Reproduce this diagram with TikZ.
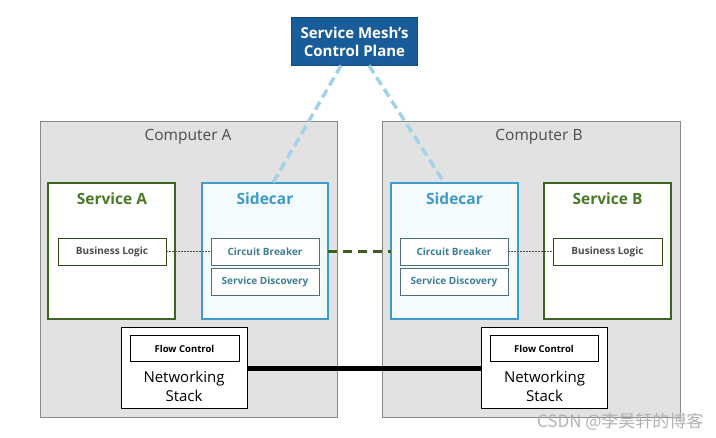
\documentclass[tikz,border=0pt]{standalone}
\usepackage{fontspec}
\setmainfont{Open Sans}
\newfontfamily\cjk{Noto Sans CJK SC}
\usetikzlibrary{calc}
\definecolor{compfill}{HTML}{E2E2E2}
\definecolor{compdraw}{HTML}{8A8A8A}
\definecolor{svcgreen}{HTML}{3F6320}
\definecolor{svctext}{HTML}{4A7A28}
\definecolor{sideblue}{HTML}{3E9BCB}
\definecolor{sidefill}{HTML}{F3FBFE}
\definecolor{sidetext}{HTML}{3D9ACB}
\definecolor{innerdraw}{HTML}{4C6E7E}
\definecolor{innertext}{HTML}{3C7E96}
\definecolor{cpfill}{HTML}{185C99}
\definecolor{cpline}{HTML}{A3D2E8}
\definecolor{linkgreen}{HTML}{3E5F1F}
\tikzset{
  box/.style={draw, rectangle, inner sep=0pt, outer sep=0pt},
  computer/.style={box, fill=compfill, draw=compdraw, line width=1pt},
  service/.style={box, fill=white, draw=svcgreen, line width=1.6pt},
  sidecarbox/.style={box, fill=sidefill, draw=sideblue, line width=1.6pt},
  bizbox/.style={box, fill=white, draw=svcgreen!70!black, line width=0.8pt, font=\fontsize{10}{12}\selectfont\bfseries, text=black!70},
  innerbox/.style={box, fill=white, draw=innerdraw, line width=0.8pt, font=\fontsize{10}{12}\selectfont\bfseries, text=innertext},
  netbox/.style={box, fill=white, draw=black, line width=1pt},
  flowbox/.style={box, fill=white, draw=black, line width=1pt, font=\fontsize{9.5}{11}\selectfont\bfseries},
  comptitle/.style={font=\fontsize{15.5}{18}\selectfont, text=black!70},
  svctitle/.style={font=\fontsize{15.5}{17}\selectfont\bfseries, text=svctext},
  sidetitle/.style={font=\fontsize{15.5}{17}\selectfont\bfseries, text=sidetext},
  nettext/.style={font=\fontsize{15}{19}\selectfont, align=center, text=black},
  cplink/.style={draw=cpline, line width=3.5pt, dash pattern=on 9pt off 5pt},
  sclink/.style={draw=linkgreen, line width=3.5pt, dash pattern=on 9pt off 6pt},
  bizlink/.style={draw=black!70, line width=0.7pt, dash pattern=on 1.5pt off 1.5pt},
  netlink/.style={draw=black, line width=5pt}
}
\begin{document}
\begin{tikzpicture}[x=1pt,y=-1pt]
\useasboundingbox (0,0) rectangle (716,438);
\fill[white] (0,0) rectangle (716,438);
% computers
\node[computer, minimum width=297pt, minimum height=296pt] (compA) at (188.5,270) {};
\node[computer, minimum width=298pt, minimum height=296pt] (compB) at (531,270) {};
\node[comptitle] (compAt) at (188,137) {Computer A};
\node[comptitle] (compBt) at (539,137) {Computer B};
% services and sidecars
\node[service, minimum width=127pt, minimum height=136pt] (svcA) at (111.5,251) {};
\node[sidecarbox, minimum width=126pt, minimum height=136pt] (scA) at (265,251) {};
\node[sidecarbox, minimum width=127pt, minimum height=136pt] (scB) at (454.5,251) {};
\node[service, minimum width=127pt, minimum height=136pt] (svcB) at (607.5,251) {};
\node[svctitle] (svcAt) at (112,199) {Service A};
\node[sidetitle] (scAt) at (265,199) {Sidecar};
\node[sidetitle] (scBt) at (454.5,199) {Sidecar};
\node[svctitle] (svcBt) at (607.5,199) {Service B};
% inner boxes
\node[bizbox, minimum width=108pt, minimum height=27pt] (blA) at (112,251.5) {Business Logic};
\node[innerbox, minimum width=108pt, minimum height=27pt] (cbA) at (265,251.5) {Circuit Breaker};
\node[innerbox, minimum width=108pt, minimum height=27pt] (sdA) at (265,281.5) {Service Discovery};
\node[innerbox, minimum width=108pt, minimum height=27pt] (cbB) at (454,251.5) {Circuit Breaker};
\node[innerbox, minimum width=108pt, minimum height=27pt] (sdB) at (454,281.5) {Service Discovery};
\node[bizbox, minimum width=109pt, minimum height=27pt] (blB) at (607.5,251.5) {Business Logic};
% networking stacks
\node[netbox, minimum width=126pt, minimum height=81pt] (netA) at (184,368.5) {};
\node[netbox, minimum width=126pt, minimum height=81pt] (netB) at (544.5,368.5) {};
\node[flowbox, minimum width=109pt, minimum height=26pt] (flA) at (184.5,349) {Flow Control};
\node[flowbox, minimum width=108pt, minimum height=26pt] (flB) at (544,349) {Flow Control};
\node[nettext] (netAt) at (184,386.5) {Networking\\Stack};
\node[nettext] (netBt) at (544.5,386.5) {Networking\\Stack};
% control plane
\node[box, fill=cpfill, draw=cpfill!80!black, line width=0.8pt, minimum width=126pt, minimum height=48pt, align=center, text=white, font=\fontsize{15}{18}\selectfont\bfseries] (cp) at (354.5,41.5) {Service Mesh's\\Control Plane};
% connectors
\draw[cplink] ($(cp.south)+(-13.5,0)$) -- ($(scA.north)+(8,0)$);
\draw[cplink] ($(cp.south)+(14.5,0)$) -- ($(scB.north)+(-10,0)$);
\draw[sclink] (scA.east |- cbA.east) -- (scB.west |- cbB.west);
\draw[bizlink] (blA.east) -- (cbA.west);
\draw[bizlink] (cbB.east) -- (blB.west);
\draw[netlink] (netA.east) -- (netB.west);
% watermark
\node[font=\cjk\fontsize{17}{19}\selectfont, text=black!30, anchor=east] (wm) at (707,422) {CSDN @李昊轩的博客};
\end{tikzpicture}
\end{document}
